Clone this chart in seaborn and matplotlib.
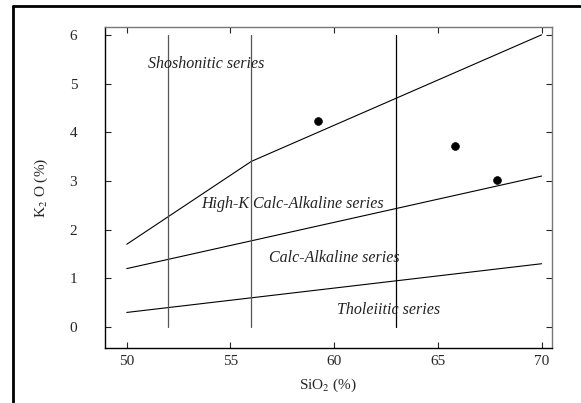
import numpy as np
import pandas as pd
import matplotlib
matplotlib.use("Agg")
import matplotlib.pyplot as plt
from matplotlib.lines import Line2D
import seaborn as sns

# boundary lines of the K2O-SiO2 diagram
shosh_x = [50, 56, 70]
shosh_y = [1.7, 3.4, 6.0]
highk_x = [50, 70]
highk_y = [1.2, 3.1]
calc_x = [50, 70]
calc_y = [0.3, 1.3]
vert_x = [52, 56, 63]
vert_colors = ["#555555", "#555555", "black"]

# samples
sio2 = [59.2, 65.8, 67.85]
k2o = [4.22, 3.72, 3.02]

labels = ["Shoshonitic series", "High-K Calc-Alkaline series",
          "Calc-Alkaline series", "Tholeiitic series"]
label_x = [53.85, 58.0, 60.0, 62.6]
label_y = [5.4, 2.53, 1.42, 0.35]

sns.set_style("ticks")
plt.rcParams["font.family"] = ["Liberation Serif", "DejaVu Serif"]
plt.rcParams["mathtext.fontset"] = "stix"

fig = plt.figure(figsize=(5.81, 4.03), dpi=100)
ax = fig.add_axes([105 / 581, 1 - 348 / 403, 447 / 581, 321 / 403])

for xs, ys in [(shosh_x, shosh_y), (highk_x, highk_y), (calc_x, calc_y)]:
    sns.lineplot(x=xs, y=ys, ax=ax, color="black", linewidth=0.8, sort=False)
for vx, c in zip(vert_x, vert_colors):
    ax.plot([vx, vx], [0, 6], color=c, linewidth=0.9)

pts = pd.DataFrame({"SiO2": sio2, "K2O": k2o})
sns.scatterplot(data=pts, x="SiO2", y="K2O", ax=ax, color="black", s=32,
                edgecolor="black", zorder=5)

for t, lx, ly in zip(labels, label_x, label_y):
    ax.text(lx, ly, t, ha="center", va="center", style="italic",
            fontsize=11.5, color="#222222")

ax.set_xlim(48.95, 70.5)
ax.set_ylim(-0.43, 6.16)
ax.set_xticks([50, 55, 60, 65, 70])
ax.set_yticks([0, 1, 2, 3, 4, 5, 6])
ax.tick_params(direction="in", top=True, right=True, labeltop=False,
               labelright=False, length=4, width=0.8, labelsize=11)
ax.tick_params(axis="y", pad=20)
ax.tick_params(axis="x", pad=5)
ax.set_xlabel("SiO$_2$ (%)", fontsize=11, labelpad=6)
ax.set_ylabel("K$_2$ O (%)", fontsize=11, labelpad=14)
for side in ["left", "bottom"]:
    ax.spines[side].set_color("black")
    ax.spines[side].set_linewidth(1.0)
for side in ["top", "right"]:
    ax.spines[side].set_visible(True)
    ax.spines[side].set_color("#777777")
    ax.spines[side].set_linewidth(1.0)

# outer frame (top and left edge)
fig.add_artist(Line2D([13 / 581, 1], [1 - 6 / 403, 1 - 6 / 403],
                      color="black", linewidth=2, transform=fig.transFigure))
fig.add_artist(Line2D([13 / 581, 13 / 581], [0, 1 - 6 / 403],
                      color="black", linewidth=2, transform=fig.transFigure))

fig.savefig("out.png", dpi=100)
